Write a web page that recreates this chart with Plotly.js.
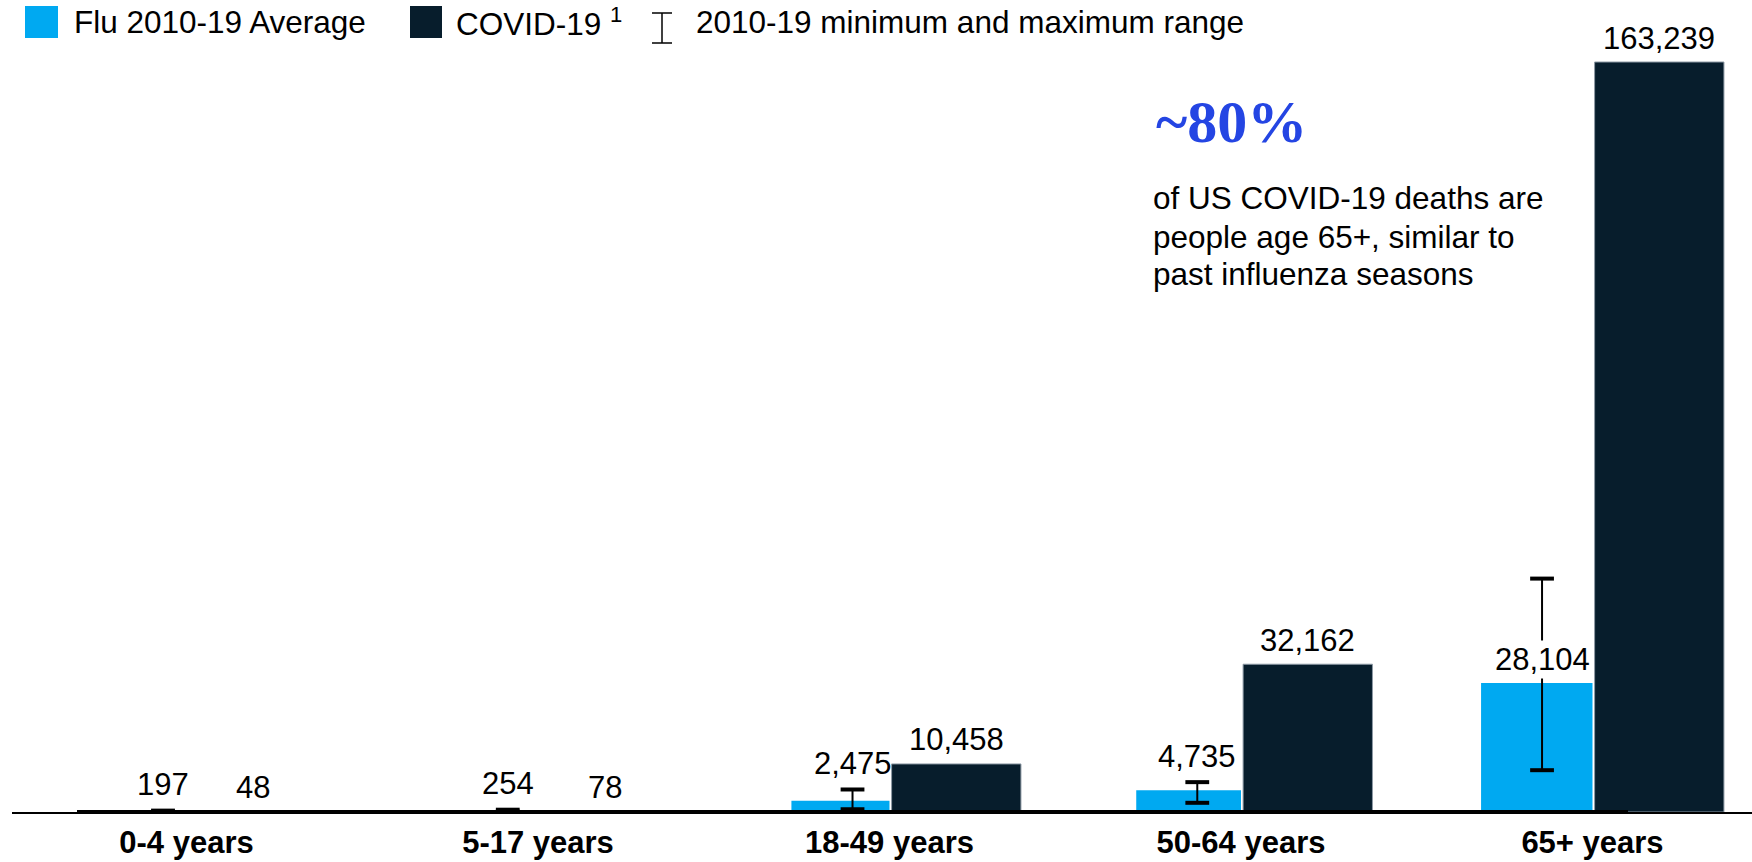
<!DOCTYPE html>
<html>
<head>
<meta charset="utf-8">
<script src="https://cdn.plot.ly/plotly-3.0.1.min.js"></script>
<style>html,body{margin:0;padding:0;background:#fff;}#chart{width:1752px;height:862px;}</style>
</head>
<body>
<div id="chart"></div>
<script>
// ---- data ----
const categories = ['0-4 years', '5-17 years', '18-49 years', '50-64 years', '65+ years'];
const fluAvg = [197, 254, 2475, 4735, 28104];
const covid = [48, 78, 10458, 32162, 163239];
const fluMin = [100, 100, 600, 2000, 9100];
const fluMax = [300, 500, 4900, 6500, 50800];
const legendLabels = ['Flu 2010-19 Average', 'COVID-19 <sup>1</sup>', '2010-19 minimum and maximum range'];
const calloutBig = '~80%';
const calloutLines = ['of US COVID-19 deaths are', 'people age 65+, similar to', 'past influenza seasons'];

// ---- style ----
const FONT = 'Liberation Sans, Arial, Helvetica, sans-serif';
const FLU = '#00A9F1';
const COV = '#071D2C';
const fmt = v => v.toLocaleString('en-US');
const fluWidths = [0.240, 0.260, 0.279, 0.298, 0.317];
const covOffset = 0.006, covWidth = 0.368;
const fluLabelShift = [27, 27, 37, 34, 23];
const fluLabelBg = ['rgba(0,0,0,0)', 'rgba(0,0,0,0)', 'rgba(0,0,0,0)', 'rgba(0,0,0,0)', 'white'];

const traces = [
  {
    type: 'bar', x: categories, y: fluAvg, xaxis: 'x', yaxis: 'y',
    offset: fluWidths.map(w => -w), width: fluWidths,
    marker: {color: FLU, line: {width: 0}}, hoverinfo: 'none', showlegend: false
  },
  {
    type: 'bar', x: categories, y: covid, xaxis: 'x', yaxis: 'y',
    offset: covOffset, width: covWidth,
    marker: {color: COV, line: {color: '#8e9aa5', width: 1}}, hoverinfo: 'none', showlegend: false
  },
  {
    type: 'scatter', mode: 'markers', x: categories, y: fluAvg, xaxis: 'x2', yaxis: 'y',
    marker: {size: 1, opacity: 0},
    error_y: {type: 'data', symmetric: false,
      array: fluMax.map((v, i) => v - fluAvg[i]),
      arrayminus: fluAvg.map((v, i) => v - fluMin[i]),
      thickness: 2, width: 0, color: '#000'},
    hoverinfo: 'none', showlegend: false
  },
  {
    type: 'scatter', mode: 'markers', x: categories.concat(categories), y: fluMax.concat(fluMin),
    xaxis: 'x2', yaxis: 'y',
    marker: {symbol: 'line-ew', size: 17, line: {width: 4, color: '#000'}},
    hoverinfo: 'none', showlegend: false
  }
];

// pixel helpers for paper placement (plot area: x 12..1752, y 40..812)
const px = x => (x - 12) / 1740;
const py = y => (812 - y) / 772;

const annotations = [];
fluAvg.forEach((v, i) => annotations.push({
  xref: 'x2', yref: 'y', x: i, y: v, yshift: fluLabelShift[i], yanchor: 'middle', xanchor: 'center',
  text: fmt(v), showarrow: false, bgcolor: fluLabelBg[i], borderpad: 1,
  font: {family: FONT, size: 31, color: '#000'}
}));
covid.forEach((v, i) => annotations.push({
  xref: 'x', yref: 'y', x: i + covOffset + covWidth / 2, y: v, yshift: 24, yanchor: 'middle', xanchor: 'center',
  text: fmt(v), showarrow: false,
  font: {family: FONT, size: 31, color: '#000'}
}));
// legend texts
[[72, legendLabels[0]], [454, legendLabels[1]], [694, legendLabels[2]]].forEach(([x, t]) => annotations.push({
  xref: 'paper', yref: 'paper', x: px(x), y: py(22), xanchor: 'left', yanchor: 'middle',
  text: t, showarrow: false, font: {family: FONT, size: 31.5, color: '#000'}
}));
// callout
annotations.push({
  xref: 'paper', yref: 'paper', x: px(1154), y: py(122), xanchor: 'left', yanchor: 'middle',
  text: '<b>' + calloutBig + '</b>', showarrow: false,
  font: {family: 'Liberation Serif, DejaVu Serif, serif', size: 60, color: '#2445E3'}
});
[198, 237, 274].forEach((y, k) => annotations.push({
  xref: 'paper', yref: 'paper', x: px(1151), y: py(y), xanchor: 'left', yanchor: 'middle',
  text: calloutLines[k], showarrow: false, font: {family: FONT, size: 31.5, color: '#000'}
}));

const shapes = [
  // thick baseline
  {type: 'line', xref: 'paper', yref: 'y', x0: px(77), x1: px(1628), y0: 0, y1: 0, line: {color: '#000', width: 4}},
  // legend swatches
  {type: 'rect', xref: 'paper', yref: 'paper', x0: px(25), x1: px(58), y0: py(38), y1: py(6), fillcolor: FLU, line: {width: 0}},
  {type: 'rect', xref: 'paper', yref: 'paper', x0: px(410), x1: px(442), y0: py(38), y1: py(6), fillcolor: COV, line: {width: 0}},
  // legend range icon
  {type: 'line', xref: 'paper', yref: 'paper', x0: px(662), x1: px(662), y0: py(43), y1: py(13), line: {color: '#000', width: 1.5}},
  {type: 'line', xref: 'paper', yref: 'paper', x0: px(652), x1: px(672), y0: py(43), y1: py(43), line: {color: '#000', width: 1.5}},
  {type: 'line', xref: 'paper', yref: 'paper', x0: px(652), x1: px(672), y0: py(13), y1: py(13), line: {color: '#000', width: 1.5}}
];

const layout = {
  width: 1752, height: 862,
  margin: {l: 12, r: 0, t: 40, b: 50, pad: 0},
  paper_bgcolor: '#fff', plot_bgcolor: '#fff',
  barmode: 'overlay', showlegend: false,
  font: {family: FONT, color: '#000'},
  xaxis: {
    type: 'category', categoryarray: categories, range: [-0.4964, 4.4538],
    showline: true, linecolor: '#000', linewidth: 1.5, showgrid: false, zeroline: false,
    ticks: '', tickfont: {family: FONT, size: 31, color: '#000', weight: 'bold'},
    ticklabelstandoff: 2, fixedrange: true
  },
  xaxis2: {
    type: 'category', categoryarray: categories, overlaying: 'x', range: [-0.438, 4.609],
    visible: false, fixedrange: true
  },
  yaxis: {range: [0, 168027], visible: false, showgrid: false, zeroline: false, fixedrange: true},
  annotations: annotations,
  shapes: shapes
};

Plotly.newPlot('chart', traces, layout, {displayModeBar: false, staticPlot: true});
</script>
</body>
</html>
